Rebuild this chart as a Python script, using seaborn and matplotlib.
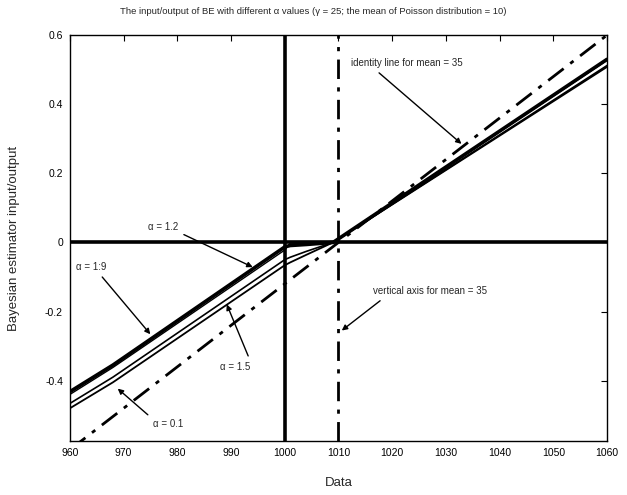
import matplotlib
matplotlib.use("Agg")
import matplotlib.pyplot as plt
import seaborn as sns
import pandas as pd
import numpy as np

# ---- data ----
x_pts = [960, 968, 1000, 1001, 1004, 1009, 1060]
y_a19 = [-0.432, -0.355, -0.013, -0.009, -0.006, 0.0, 0.530]
y_a12 = [-0.440, -0.362, -0.022, -0.002, -0.004, 0.0, 0.527]
y_a15 = [-0.466, -0.390, -0.050, -0.043, -0.026, 0.0, 0.512]
y_a01 = [-0.480, -0.405, -0.066, -0.058, -0.036, 0.0, 0.508]
alphas = ["α = 1.9", "α = 1.2", "α = 1.5", "α = 0.1"]

identity_x = [960, 1060]
identity_y = [-0.6, 0.6]
mean_x = 1010
center_x = 1000

x_ticks = [960, 970, 980, 990, 1000, 1010, 1020, 1030, 1040, 1050, 1060]
y_ticks = [-0.4, -0.2, 0, 0.2, 0.4, 0.6]
y_tick_labels = ["-0.4", "-0.2", "0", "0.2", "0.4", "0.6"]

rows = []
for name, ys in zip(alphas, [y_a19, y_a12, y_a15, y_a01]):
    for xv, yv in zip(x_pts, ys):
        rows.append({"Data": xv, "value": yv, "alpha": name})
df = pd.DataFrame(rows)

sns.set_theme(style="white")
plt.rcParams["font.family"] = ["Liberation Sans", "DejaVu Sans"]

fig = plt.figure(figsize=(6.27, 4.95), dpi=100)
ax = fig.add_axes([0.1116, 0.109, 0.8565, 0.820])

sns.lineplot(data=df, x="Data", y="value", hue="alpha", size="alpha",
             sizes={"α = 1.9": 2.6, "α = 1.2": 1.0, "α = 1.5": 1.2, "α = 0.1": 1.3},
             palette={a: "black" for a in alphas}, legend=False, ax=ax,
             estimator=None, sort=False)

dash = (0, (7, 3, 1.5, 3))
sns.lineplot(x=identity_x, y=identity_y, color="black", lw=2.0, ax=ax)
ax.lines[-1].set_linestyle(dash)
ax.axvline(mean_x, color="black", lw=2.0, linestyle=dash)
ax.axvline(center_x, color="black", lw=2.6)
ax.axhline(0, color="black", lw=2.6)

ax.set_xlim(960, 1060)
ax.set_ylim(-0.575, 0.6)
ax.set_xticks(x_ticks)
ax.set_xticklabels([str(t) for t in x_ticks])
ax.set_yticks(y_ticks)
ax.set_yticklabels(y_tick_labels)
ax.tick_params(direction="in", length=4, width=0.8, top=True, right=True,
               labelsize=7.5, colors="black", pad=5)
for s in ax.spines.values():
    s.set_visible(True)
    s.set_color("black")
    s.set_linewidth(1.0)

ax.set_xlabel("Data", fontsize=9.5, labelpad=14)
ax.set_ylabel("Bayesian estimator input/output", fontsize=9.5, labelpad=18)
fig.suptitle("The input/output of BE with different α values (γ = 25; the mean of Poisson distribution = 10)",
             x=0.5, y=0.985, fontsize=6.8)

arrow = dict(arrowstyle="-|>", color="black", lw=1.0, mutation_scale=8)
fs = 7
ax.annotate("identity line for mean = 35", xy=(1033.3, 0.28), xytext=(1012.3, 0.52),
            fontsize=fs, va="center", ha="left", arrowprops=dict(arrow, relpos=(0.2, 0.0)))
ax.annotate("vertical axis for mean = 35", xy=(1010.2, -0.26), xytext=(1016.4, -0.14),
            fontsize=fs, va="center", ha="left", arrowprops=dict(arrow, relpos=(0.12, 0.0)))
ax.annotate("α = 1.2", xy=(994.5, -0.075), xytext=(974.5, 0.045),
            fontsize=fs, va="center", ha="left", arrowprops=dict(arrow, relpos=(1.0, 0.0)))
ax.annotate("α = 1:9", xy=(975.3, -0.272), xytext=(961.2, -0.07),
            fontsize=fs, va="center", ha="left", arrowprops=dict(arrow, relpos=(0.7, 0.0)))
ax.annotate("α = 1.5", xy=(989.0, -0.172), xytext=(988.0, -0.36),
            fontsize=fs, va="center", ha="left", arrowprops=dict(arrow, relpos=(1.0, 1.0)))
ax.annotate("α = 0.1", xy=(968.5, -0.418), xytext=(975.5, -0.527),
            fontsize=fs, va="center", ha="left", arrowprops=dict(arrow, relpos=(0.0, 1.0)))

fig.savefig("out.png", dpi=100)
